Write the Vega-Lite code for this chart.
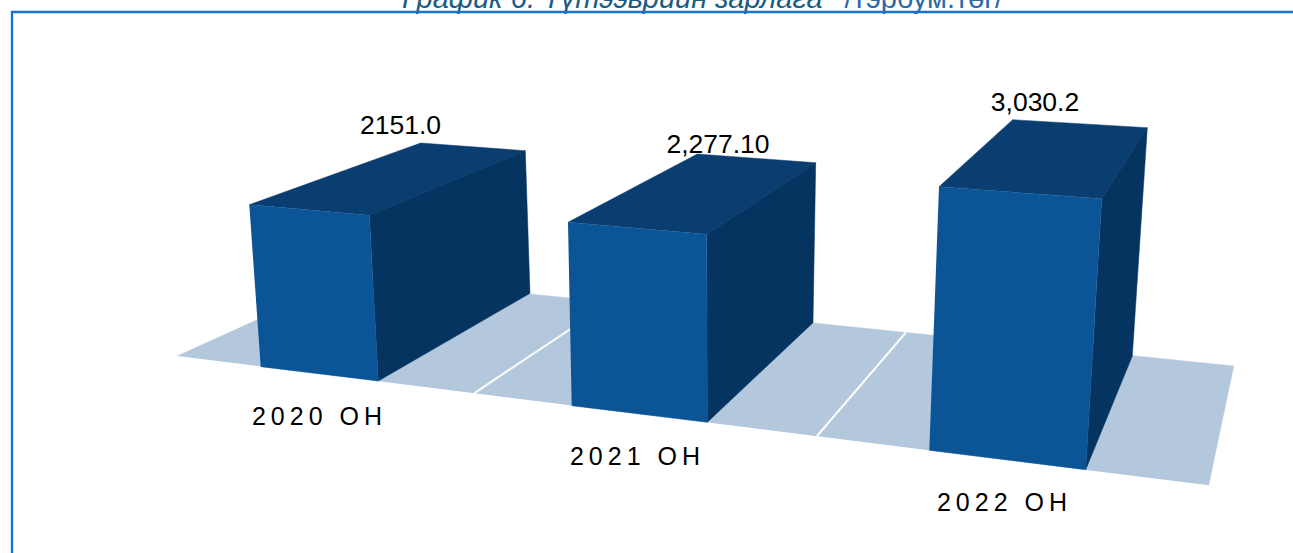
{
"$schema":"https://vega.github.io/schema/vega-lite/v6.json",
"width":1293,"height":553,"autosize":{"type":"none"},"padding":0,
"background":"#ffffff",
"config":{"view":{"stroke":null}},
"datasets":{
"polygons":[
{"shape":"floor","part":"floor","step":1,"x":177.3,"y":356},
{"shape":"floor","part":"floor","step":2,"x":354,"y":276},
{"shape":"floor","part":"floor","step":3,"x":1233.7,"y":366},
{"shape":"floor","part":"floor","step":4,"x":1208.7,"y":485.3},
{"shape":"2020 top","part":"top","step":1,"x":249.3,"y":204.7},
{"shape":"2020 top","part":"top","step":2,"x":420.7,"y":143},
{"shape":"2020 top","part":"top","step":3,"x":525.3,"y":150.7},
{"shape":"2020 top","part":"top","step":4,"x":369.3,"y":215.3},
{"shape":"2020 side","part":"side","step":1,"x":369.3,"y":215.3},
{"shape":"2020 side","part":"side","step":2,"x":525.3,"y":150.7},
{"shape":"2020 side","part":"side","step":3,"x":530,"y":293.3},
{"shape":"2020 side","part":"side","step":4,"x":378.3,"y":381},
{"shape":"2020 front","part":"front","step":1,"x":249.3,"y":204.7},
{"shape":"2020 front","part":"front","step":2,"x":369.3,"y":215.3},
{"shape":"2020 front","part":"front","step":3,"x":378.3,"y":381},
{"shape":"2020 front","part":"front","step":4,"x":260.7,"y":366.7},
{"shape":"2021 top","part":"top","step":1,"x":568,"y":222.3},
{"shape":"2021 top","part":"top","step":2,"x":697.3,"y":154},
{"shape":"2021 top","part":"top","step":3,"x":815.7,"y":162.7},
{"shape":"2021 top","part":"top","step":4,"x":706.7,"y":234.3},
{"shape":"2021 side","part":"side","step":1,"x":706.7,"y":234.3},
{"shape":"2021 side","part":"side","step":2,"x":815.7,"y":162.7},
{"shape":"2021 side","part":"side","step":3,"x":813,"y":322.7},
{"shape":"2021 side","part":"side","step":4,"x":707.3,"y":422.3},
{"shape":"2021 front","part":"front","step":1,"x":568,"y":222.3},
{"shape":"2021 front","part":"front","step":2,"x":706.7,"y":234.3},
{"shape":"2021 front","part":"front","step":3,"x":707.3,"y":422.3},
{"shape":"2021 front","part":"front","step":4,"x":571.7,"y":405.7},
{"shape":"2022 top","part":"top","step":1,"x":939,"y":186.7},
{"shape":"2022 top","part":"top","step":2,"x":1012.7,"y":119.7},
{"shape":"2022 top","part":"top","step":3,"x":1147.3,"y":127.7},
{"shape":"2022 top","part":"top","step":4,"x":1101.7,"y":198.7},
{"shape":"2022 side","part":"side","step":1,"x":1101.7,"y":198.7},
{"shape":"2022 side","part":"side","step":2,"x":1147.3,"y":127.7},
{"shape":"2022 side","part":"side","step":3,"x":1132.3,"y":356},
{"shape":"2022 side","part":"side","step":4,"x":1085.7,"y":469.7},
{"shape":"2022 front","part":"front","step":1,"x":939,"y":186.7},
{"shape":"2022 front","part":"front","step":2,"x":1101.7,"y":198.7},
{"shape":"2022 front","part":"front","step":3,"x":1085.7,"y":469.7},
{"shape":"2022 front","part":"front","step":4,"x":929.3,"y":450.3}
],
"dividers":[
{"line":"a","step":1,"x":474,"y":393.3},
{"line":"a","step":2,"x":572,"y":328},
{"line":"b","step":1,"x":817,"y":436},
{"line":"b","step":2,"x":906,"y":332.3}
],
"frame":[
{"step":1,"x":12,"y":553},
{"step":2,"x":12,"y":12},
{"step":3,"x":1293,"y":12}
],
"values":[
{"label":"2151.0","x":400.5,"y":134},
{"label":"2,277.10","x":718,"y":153.3},
{"label":"3,030.2","x":1035,"y":110.7}
],
"categories":[
{"label":"2\u20090\u20092\u20090\u2009 \u2009О\u2009Н","x":317,"y":425},
{"label":"2\u20090\u20092\u20091\u2009 \u2009О\u2009Н","x":635,"y":465},
{"label":"2\u20090\u20092\u20092\u2009 \u2009О\u2009Н","x":1002,"y":511}
],
"titleMain":[{"label":"График 6. Түтээврийн зарлага","x":402,"y":8}],
"titleUnit":[{"label":"/тэрбум.төг/","x":1003,"y":8}]
},
"encoding":{
"x":{"field":"x","type":"quantitative","scale":{"domain":[0,1293],"nice":false,"zero":false},"axis":null},
"y":{"field":"y","type":"quantitative","scale":{"domain":[553,0],"nice":false,"zero":false},"axis":null}
},
"layer":[
{"data":{"name":"titleMain"},"mark":{"type":"text","align":"left","baseline":"alphabetic","font":"Liberation Sans","fontSize":29,"fontStyle":"italic","color":"#1b5c85"},"encoding":{"text":{"field":"label"}}},
{"data":{"name":"titleUnit"},"mark":{"type":"text","align":"right","baseline":"alphabetic","font":"Liberation Sans","fontSize":29,"color":"#2a6aa5"},"encoding":{"text":{"field":"label"}}},
{"data":{"name":"frame"},"mark":{"type":"line","color":"#1a73c8","strokeWidth":2.4,"interpolate":"linear"},"encoding":{"order":{"field":"step"}}},
{"data":{"name":"polygons"},"transform":[{"filter":"datum.part==='floor'"}],"mark":{"type":"line","fill":"#b3c8dd","stroke":"#b3c8dd","strokeWidth":0.5},"encoding":{"detail":{"field":"shape"},"order":{"field":"step"}}},
{"data":{"name":"dividers"},"mark":{"type":"line","color":"#ffffff","strokeWidth":2},"encoding":{"detail":{"field":"line"},"order":{"field":"step"}}},
{"data":{"name":"polygons"},"transform":[{"filter":"datum.part==='top'"}],"mark":{"type":"line","fill":"#0a3d70","stroke":"#0a3d70","strokeWidth":0.5},"encoding":{"detail":{"field":"shape"},"order":{"field":"step"}}},
{"data":{"name":"polygons"},"transform":[{"filter":"datum.part==='side'"}],"mark":{"type":"line","fill":"#053461","stroke":"#053461","strokeWidth":0.5},"encoding":{"detail":{"field":"shape"},"order":{"field":"step"}}},
{"data":{"name":"polygons"},"transform":[{"filter":"datum.part==='front'"}],"mark":{"type":"line","fill":"#0b5596","stroke":"#0b5596","strokeWidth":0.5},"encoding":{"detail":{"field":"shape"},"order":{"field":"step"}}},
{"data":{"name":"values"},"mark":{"type":"text","align":"center","baseline":"alphabetic","font":"Liberation Sans","fontSize":26.5,"color":"#000000"},"encoding":{"text":{"field":"label"}}},
{"data":{"name":"categories"},"mark":{"type":"text","align":"center","baseline":"alphabetic","font":"Liberation Sans","fontSize":25,"color":"#000000"},"encoding":{"text":{"field":"label"}}}
]
}
